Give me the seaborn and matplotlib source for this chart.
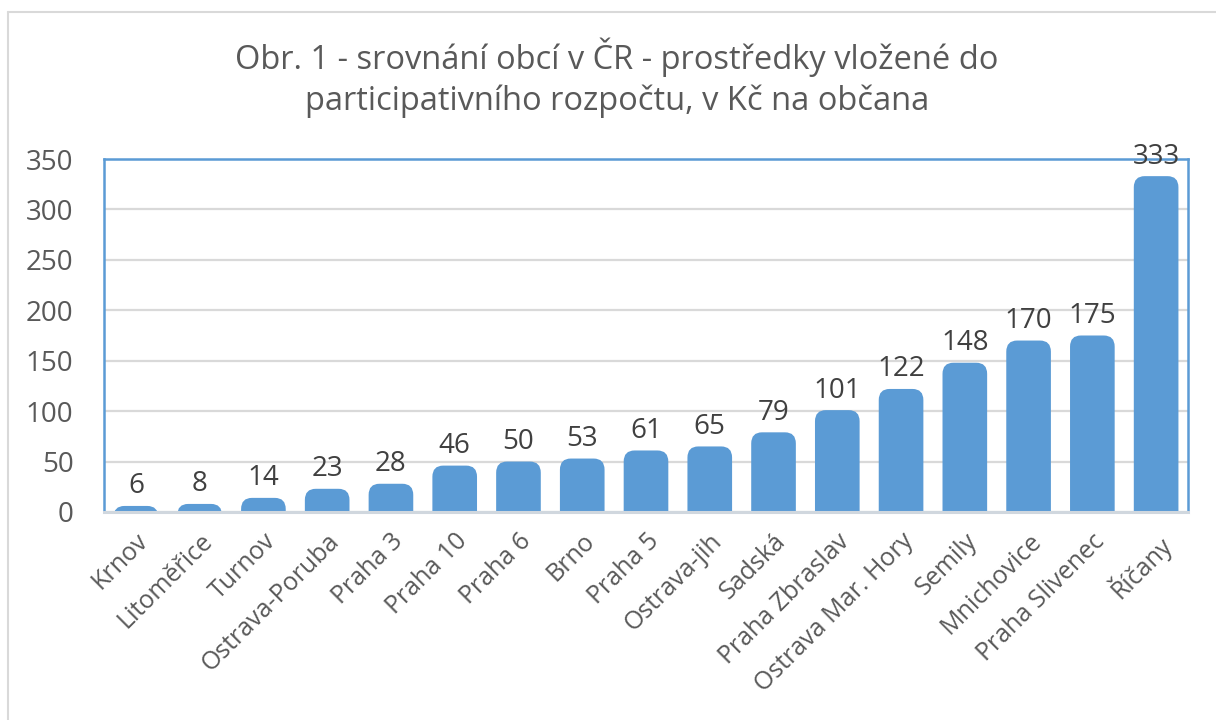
import matplotlib
matplotlib.use("Agg")
import matplotlib.pyplot as plt
from matplotlib.patches import FancyBboxPatch
from matplotlib.lines import Line2D
import seaborn as sns
import pandas as pd

# Participatory budget per inhabitant (CZK), by municipality
municipalities = [
    "Krnov", "Litoměřice", "Turnov", "Ostrava-Poruba", "Praha 3", "Praha 10",
    "Praha 6", "Brno", "Praha 5", "Ostrava-jih", "Sadská", "Praha Zbraslav",
    "Ostrava Mar. Hory", "Semily", "Mnichovice", "Praha Slivenec", "Říčany",
]
czk_per_citizen = [6, 8, 14, 23, 28, 46, 50, 53, 61, 65, 79, 101, 122, 148, 170, 175, 333]
y_ticks = [0, 50, 100, 150, 200, 250, 300, 350]

title = ("Obr. 1 - srovnání obcí v ČR - prostředky vložené do\n"
         "participativního rozpočtu, v Kč na občana")

BAR = "#5B9BD5"
TEXT = "#595959"
LABEL = "#404040"

sns.set_theme(style="white")
plt.rcParams["font.family"] = ["Open Sans", "DejaVu Sans"]

df = pd.DataFrame({"obec": municipalities, "kc": czk_per_citizen})

fig = plt.figure(figsize=(12.16, 7.2), dpi=100)
ax = fig.add_axes([104 / 1216, 1 - 512 / 720, (1188 - 104) / 1216, (512 - 159) / 720])

sns.barplot(data=df, x="obec", y="kc", color=BAR, width=0.7, saturation=1,
            ax=ax, zorder=2)

# replace the plain bars with bars that have rounded tops (square at the base)
r_x = 0.17
r_y = 11.0
for patch in list(ax.patches):
    x0 = patch.get_x()
    w = patch.get_width()
    h = patch.get_height()
    patch.set_visible(False)
    body = FancyBboxPatch((x0, -r_y * 2), w, h + r_y * 2,
                          boxstyle=f"round,pad=0,rounding_size={r_x}",
                          mutation_aspect=r_y / r_x,
                          facecolor=BAR, edgecolor="none", zorder=2)
    ax.add_patch(body)
    ax.annotate(f"{h:.0f}", (x0 + w / 2, h), xytext=(0, 4),
                textcoords="offset points", ha="center", va="bottom",
                fontsize=20, color=LABEL)

ax.set_ylim(0, 350)
ax.set_xlim(-0.5, len(municipalities) - 0.5)
ax.set_yticks(y_ticks)
ax.set_yticklabels([str(t) for t in y_ticks], fontsize=20, color=TEXT)
ax.yaxis.grid(True, color="#D9D9D9", linewidth=1.6, zorder=0)
ax.set_axisbelow(True)
ax.tick_params(axis="y", length=0, pad=22)
ax.tick_params(axis="x", length=0, pad=12)
ax.set_xticks(range(len(municipalities)))
ax.set_xticklabels(municipalities, rotation=45, ha="right",
                   rotation_mode="anchor", fontsize=18, color=TEXT)
ax.set_xlabel("")
ax.set_ylabel("")

for side in ("left", "top", "right"):
    ax.spines[side].set_color(BAR)
    ax.spines[side].set_linewidth(1.8)
ax.spines["bottom"].set_color("#D0D7DE")
ax.spines["bottom"].set_linewidth(2.2)

fig.text(617 / 1216, 1 - 78 / 720, title, ha="center", va="center",
         fontsize=23.5, color=TEXT, linespacing=1.3)

# outer chart frame
fig.add_artist(Line2D([8 / 1216, 8 / 1216], [0, 1 - 12 / 720],
                      transform=fig.transFigure, color="#D9D9D9", linewidth=1.5))
fig.add_artist(Line2D([8 / 1216, 1], [1 - 12 / 720, 1 - 12 / 720],
                      transform=fig.transFigure, color="#D9D9D9", linewidth=1.5))

fig.savefig("out.png", dpi=100)
